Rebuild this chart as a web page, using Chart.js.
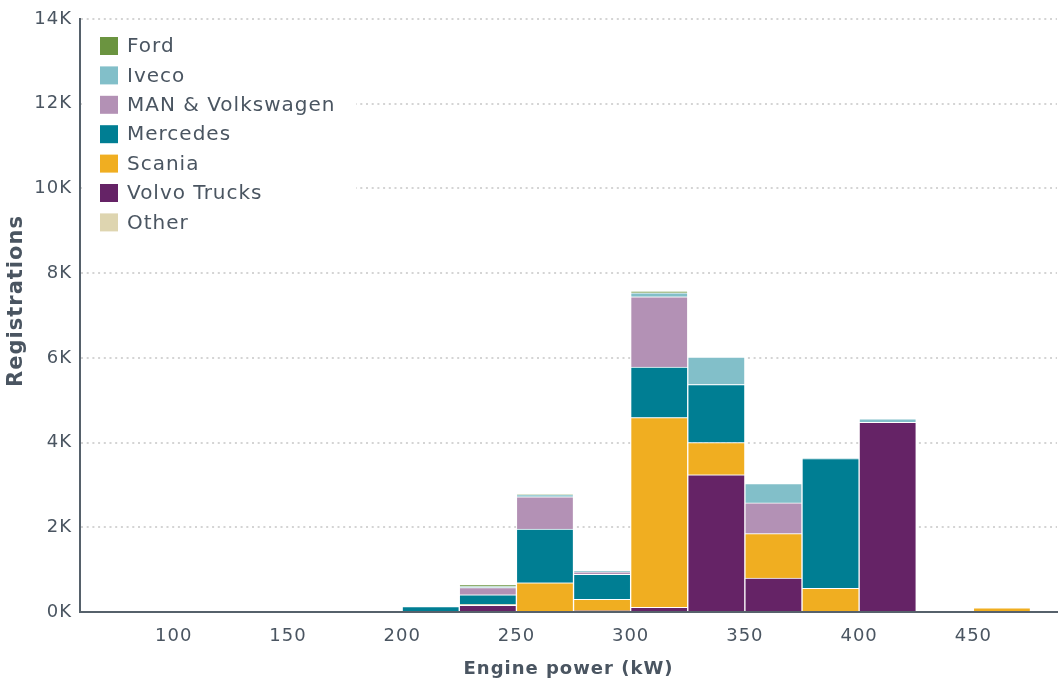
<!DOCTYPE html>
<html>
<head>
<meta charset="utf-8">
<script src="https://cdn.jsdelivr.net/npm/chart.js@4.4.1/dist/chart.umd.min.js"></script>
<style>
  body { margin: 0; background: #ffffff; }
  #chart { display: block; }
</style>
</head>
<body>
<canvas id="chart" width="1058" height="684"></canvas>
<script>
// Bins of 25 kW, starting value of each bin
const binStarts = [200, 225, 250, 275, 300, 325, 350, 375, 400, 425, 450];
const binWidth = 25;

// Registrations per manufacturer and bin
const volvo    = [0, 155, 0, 30, 110, 3240, 800, 0, 4480, 0, 0];
const scania   = [0, 20, 690, 270, 4480, 760, 1050, 560, 0, 0, 100];
const mercedes = [130, 230, 1270, 590, 1190, 1370, 0, 3060, 0, 0, 0];
const man      = [0, 170, 760, 60, 1660, 0, 725, 0, 0, 0, 0];
const iveco    = [0, 25, 50, 20, 95, 650, 455, 20, 80, 0, 0];
const ford     = [0, 50, 10, 0, 40, 0, 0, 0, 0, 0, 0];
const other    = [0, 0, 0, 0, 0, 0, 0, 0, 0, 0, 0];

const xTicks = [100, 150, 200, 250, 300, 350, 400, 450];
const yTicks = [0, 2000, 4000, 6000, 8000, 10000, 12000, 14000];

const textColor = '#4a5561';
const axisColor = '#56616b';
const fontFamily = '"DejaVu Sans", sans-serif';
const spacing = '1px';

// Stack order, bottom first
const series = [
    { label: 'Volvo Trucks', data: volvo, color: '#652366' },
    { label: 'Scania', data: scania, color: '#f0ae21' },
    { label: 'Mercedes', data: mercedes, color: '#007e93' },
    { label: 'MAN & Volkswagen', data: man, color: '#b391b5' },
    { label: 'Iveco', data: iveco, color: '#82bfc9' },
    { label: 'Ford', data: ford, color: '#6b9440' },
    { label: 'Other', data: other, color: '#ded5b0' }
];

// Order shown in the legend
const legendOrder = ['Ford', 'Iveco', 'MAN & Volkswagen', 'Mercedes', 'Scania', 'Volvo Trucks', 'Other'];

function toPoints(values) {
    return values.map((v, i) => ({ x: binStarts[i] + binWidth / 2, y: v }));
}

// Wider letters, closer to the original typeface
const letterSpacing = {
    id: 'letterSpacing',
    beforeUpdate(chart) { chart.ctx.letterSpacing = spacing; },
    beforeDraw(chart) { chart.ctx.letterSpacing = spacing; }
};

// Legend inside the plot on a white box, plus the y axis title
const insideLegend = {
    id: 'insideLegend',
    afterDraw(chart) {
        const ctx = chart.ctx;
        const area = chart.chartArea;
        ctx.save();
        ctx.fillStyle = '#ffffff';
        ctx.fillRect(area.left + 2, 30, 274, 206);
        ctx.font = '20px ' + fontFamily;
        ctx.letterSpacing = spacing;
        ctx.textBaseline = 'middle';
        ctx.textAlign = 'left';
        legendOrder.forEach((name, i) => {
            const s = series.find(d => d.label === name);
            const y = 46 + i * 29.4;
            ctx.fillStyle = s.color;
            ctx.fillRect(100, y - 9, 18, 18);
            ctx.fillStyle = textColor;
            ctx.fillText(name, 127, y + 1);
        });

        ctx.translate(17, 301);
        ctx.rotate(-Math.PI / 2);
        ctx.font = 'bold 21px ' + fontFamily;
        ctx.textAlign = 'center';
        ctx.fillText('Registrations', 0, 0);
        ctx.restore();
    }
};

new Chart(document.getElementById('chart'), {
    type: 'bar',
    data: {
        datasets: series.map(s => ({
            label: s.label,
            data: toPoints(s.data),
            backgroundColor: s.color,
            borderColor: '#ffffff',
            borderWidth: 1,
            barPercentage: 1,
            categoryPercentage: 1
        }))
    },
    options: {
        responsive: false,
        animation: false,
        layout: { padding: { top: 19, right: 1, left: 0, bottom: 0 } },
        plugins: {
            legend: { display: false },
            tooltip: { enabled: false }
        },
        scales: {
            x: {
                type: 'linear',
                stacked: true,
                offset: false,
                min: 59,
                max: 486.6,
                afterBuildTicks: scale => { scale.ticks = xTicks.map(v => ({ value: v })); },
                afterFit: scale => { scale.height = 72; },
                grid: { display: true, drawOnChartArea: false, drawTicks: false },
                border: { display: true, color: axisColor, width: 2 },
                ticks: {
                    color: textColor,
                    font: { family: fontFamily, size: 18 },
                    padding: 14,
                    maxRotation: 0
                },
                title: {
                    display: true,
                    text: 'Engine power (kW)',
                    color: textColor,
                    font: { family: fontFamily, size: 18, weight: 'bold' },
                    padding: { top: 4, bottom: 4 }
                }
            },
            y: {
                stacked: true,
                min: 0,
                max: 14000,
                afterBuildTicks: scale => { scale.ticks = yTicks.map(v => ({ value: v })); },
                afterFit: scale => { scale.width = 80; },
                grid: { color: '#d4d4d4', lineWidth: 2, drawTicks: false },
                border: { display: true, color: axisColor, width: 2, dash: [2, 3.7] },
                ticks: {
                    color: textColor,
                    font: { family: fontFamily, size: 18 },
                    padding: 8,
                    callback: v => (v / 1000) + 'K'
                },
                title: { display: false }
            }
        }
    },
    plugins: [letterSpacing, insideLegend]
});
</script>
</body>
</html>
